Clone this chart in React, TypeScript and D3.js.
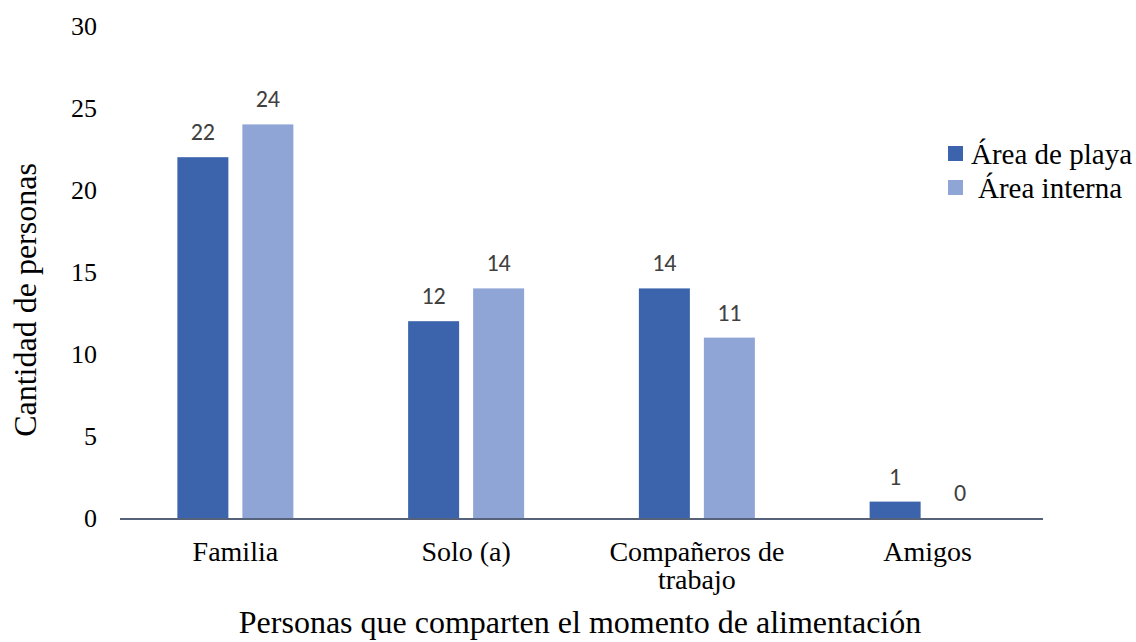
import React from "react";
import * as d3 from "d3";

const categories = ["Familia", "Solo (a)", "Compañeros de|trabajo", "Amigos"];
const seriesNames = ["Área de playa", "Área interna"];
const playa = [22, 12, 14, 1];
const interna = [24, 14, 11, 0];
const yTicks = [0, 5, 10, 15, 20, 25, 30];
const colors = ["#3C64AD", "#8FA5D6"];

export default function App() {
  const W = 1136, H = 642;
  const x0 = 120, x1 = 1043, yBottom = 518, yTop = 26;
  const x = d3.scaleBand<string>().domain(categories).range([x0, x1]).padding(0);
  const y = d3.scaleLinear().domain([0, 30]).range([yBottom, yTop]);
  const barW = 51, gap = 7;
  const series = [playa, interna];
  const serif = "'Liberation Serif', 'Times New Roman', serif";
  const sans = "Carlito, Calibri, 'Open Sans', 'Liberation Sans', sans-serif";
  return (
    <svg width={W} height={H} style={{ position: "absolute", left: 0, top: 0, background: "#fff" }}>
      {yTicks.map((t) => (
        <text key={t} x={97} y={y(t)} dy="0.35em" textAnchor="end" fontFamily={serif} fontSize={26} fill="#000">
          {t}
        </text>
      ))}
      {categories.map((c, i) => {
        const cx = (x(c) as number) + x.bandwidth() / 2;
        return series.map((s, j) => {
          const v = s[i];
          const bx = j === 0 ? cx - gap - barW : cx + gap;
          return (
            <g key={c + j}>
              {v > 0 && (
                <rect x={bx} y={y(v)} width={barW} height={y(0) - y(v)} fill={colors[j]} />
              )}
              <text x={bx + barW / 2} y={y(v) - 17} textAnchor="middle" fontFamily={sans} fontSize={24} fill="#404040">
                {v}
              </text>
            </g>
          );
        });
      })}
      <line x1={x0} x2={x1} y1={yBottom + 1} y2={yBottom + 1} stroke="#56627A" strokeWidth={2} />
      {categories.map((c) => {
        const cx = (x(c) as number) + x.bandwidth() / 2;
        const lines = c.split("|");
        return (
          <text key={c} x={cx} y={561} textAnchor="middle" fontFamily={serif} fontSize={28} fill="#000">
            {lines.map((l, k) => (
              <tspan key={k} x={cx} dy={k === 0 ? 0 : 28}>{l}</tspan>
            ))}
          </text>
        );
      })}
      <text x={580} y={633} textAnchor="middle" fontFamily={serif} fontSize={32} fill="#000">
        Personas que comparten el momento de alimentación
      </text>
      <text transform="translate(36,300) rotate(-90)" textAnchor="middle" fontFamily={serif} fontSize={32} fill="#000">
        Cantidad de personas
      </text>
      {seriesNames.map((n, j) => (
        <g key={n}>
          <rect x={948} y={146 + j * 34} width={15} height={15} fill={colors[j]} />
          <text x={j === 0 ? 971 : 978} y={164 + j * 34} fontFamily={serif} fontSize={29} fill="#000">
            {n}
          </text>
        </g>
      ))}
    </svg>
  );
}
